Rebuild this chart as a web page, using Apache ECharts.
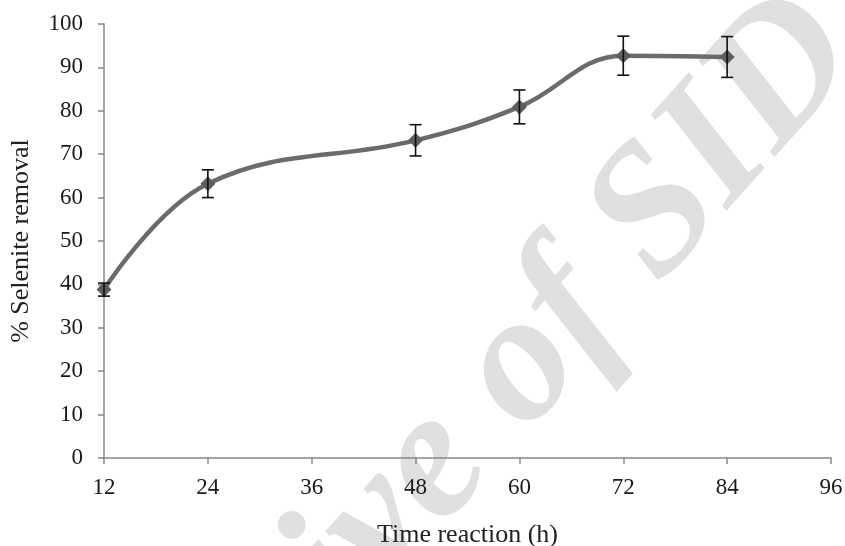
<!DOCTYPE html>
<html><head><meta charset="utf-8">
<script src="https://cdn.jsdelivr.net/npm/echarts@6/dist/echarts.min.js"></script>
<style>html,body{margin:0;padding:0;background:#fff}#c{width:845px;height:546px}</style>
</head><body><div id="c"></div>
<script>
const hours = [12, 24, 48, 60, 72, 84];
const removal = [38.8, 63.2, 73.2, 80.9, 92.7, 92.4];
const errors = [1.5, 3.2, 3.6, 3.9, 4.5, 4.7];
const xTicks = [12, 24, 36, 48, 60, 72, 84, 96];
const yTicks = [0, 10, 20, 30, 40, 50, 60, 70, 80, 90, 100];

const font = '"Liberation Serif", "Times New Roman", serif';
const chart = echarts.init(document.getElementById('c'));
chart.setOption({
  animation: false,
  backgroundColor: '#fff',
  graphic: [{
    type: 'text', z: -10, silent: true,
    x: 760, y: -36, rotation: 0.84,
    style: { text: 'Archive of SID', fill: '#e0e0e0', font: 'italic bold 184px "Liberation Serif", serif', align: 'right', verticalAlign: 'top' }
  }],
  grid: { left: 104, right: 14, top: 24, bottom: 88, containLabel: false, outerBoundsMode: 'none' },
  xAxis: {
    type: 'value', min: 12, max: 96, interval: 12,
    name: 'Time reaction (h)', nameLocation: 'middle', nameGap: 64,
    nameTextStyle: { fontFamily: font, fontSize: 26, color: '#222' },
    axisLine: { lineStyle: { color: '#888', width: 1.5 } },
    axisTick: { show: true, length: 6, lineStyle: { color: '#888', width: 1.5 } },
    axisLabel: { fontFamily: font, fontSize: 23, color: '#1a1a1a', margin: 18, formatter: v => xTicks.includes(v) ? String(v) : '' },
    splitLine: { show: false }
  },
  yAxis: {
    type: 'value', min: 0, max: 100, interval: 10,
    name: '% Selenite removal', nameLocation: 'middle', nameGap: 70,
    nameTextStyle: { fontFamily: font, fontSize: 26, color: '#222' },
    axisLine: { show: true, lineStyle: { color: '#888', width: 1.5 } },
    axisTick: { show: true, length: 6, lineStyle: { color: '#888', width: 1.5 } },
    axisLabel: { fontFamily: font, fontSize: 23, color: '#1a1a1a', margin: 21, formatter: v => yTicks.includes(v) ? String(v) : '' },
    splitLine: { show: false }
  },
  series: [{
    type: 'line',
    data: hours.map((h, i) => [h, removal[i]]),
    smooth: 0.4,
    symbol: 'diamond', symbolSize: 15,
    lineStyle: { color: '#6b6b6b', width: 4.5 },
    itemStyle: { color: '#5e5e5e' },
    z: 3
  }, {
    type: 'custom',
    data: hours.map((h, i) => [h, removal[i] - errors[i], removal[i] + errors[i]]),
    z: 4,
    renderItem: (params, api) => {
      const lo = api.coord([api.value(0), api.value(1)]);
      const hi = api.coord([api.value(0), api.value(2)]);
      const w = 6;
      const st = { stroke: '#111', lineWidth: 1.6 };
      return { type: 'group', children: [
        { type: 'line', shape: { x1: lo[0], y1: lo[1], x2: hi[0], y2: hi[1] }, style: st },
        { type: 'line', shape: { x1: lo[0] - w, y1: lo[1], x2: lo[0] + w, y2: lo[1] }, style: st },
        { type: 'line', shape: { x1: hi[0] - w, y1: hi[1], x2: hi[0] + w, y2: hi[1] }, style: st }
      ]};
    }
  }]
});
</script></body></html>
